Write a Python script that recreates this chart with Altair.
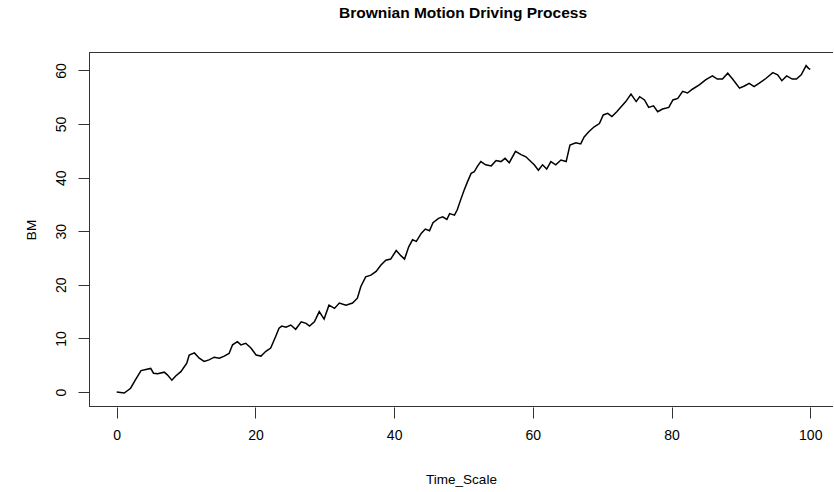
import altair as alt
import pandas as pd

time_scale = [0, 1.08, 2.0, 2.67, 3.5, 4.2, 4.9, 5.3, 5.9, 6.85, 7.3, 7.95, 8.5, 9.25,
              10.1, 10.45, 11.2, 11.9, 12.6, 13.3, 14.06, 14.8, 15.5, 16.2, 16.7, 17.4,
              17.9, 18.6, 19.35, 20.1, 20.8, 21.5, 22.2, 22.96, 23.4, 23.8, 24.4, 25.1,
              25.8, 26.6, 27.3, 27.8, 28.5, 29.2, 29.9, 30.6, 31.4, 32.1, 33.05, 34.0,
              34.7, 35.2, 35.9, 36.65, 37.4, 38.1, 38.8, 39.5, 40.3, 41.0, 41.5, 42.1,
              42.65, 43.2, 43.9, 44.5, 45.1, 45.6, 46.4, 47.0, 47.6, 48.0, 48.7, 49.1,
              49.6, 50.1, 50.6, 51.1, 51.55, 52.0, 52.5, 53.2, 54.0, 54.7, 55.4, 56.0,
              56.6, 57.5, 58.3, 59.0, 59.7, 60.2, 60.8, 61.4, 62.0, 62.6, 63.3, 64.05,
              64.8, 65.35, 66.2, 66.9, 67.4, 68.1, 68.85, 69.6, 70.15, 70.8, 71.4, 72.1,
              72.7, 73.4, 74.15, 74.9, 75.4, 76.1, 76.7, 77.4, 78.0, 78.7, 79.6, 80.2,
              80.9, 81.6, 82.3, 83.0, 84.0, 84.95, 85.9, 86.6, 87.35, 88.1, 88.8, 89.8,
              90.5, 91.2, 91.9, 92.6, 93.6, 94.6, 95.3, 95.9, 96.6, 97.4, 98.0, 98.7,
              99.4, 99.75, 100.0]

bm = [0.0, -0.2, 0.7, 2.2, 4.0, 4.2, 4.4, 3.5, 3.4, 3.7, 3.2, 2.2, 3.0, 3.8,
      5.4, 6.9, 7.3, 6.3, 5.7, 6.0, 6.5, 6.3, 6.7, 7.2, 8.8, 9.4,
      8.8, 9.1, 8.2, 6.9, 6.7, 7.6, 8.2, 10.5, 11.9, 12.3, 12.1, 12.5,
      11.7, 13.1, 12.8, 12.3, 13.1, 15.0, 13.6, 16.2, 15.6, 16.6, 16.2, 16.6,
      17.5, 19.7, 21.5, 21.8, 22.5, 23.7, 24.6, 24.8, 26.4, 25.4, 24.8, 27.1,
      28.4, 28.1, 29.6, 30.4, 30.1, 31.6, 32.4, 32.7, 32.2, 33.3, 33.0, 34.0,
      35.9, 37.7, 39.3, 40.8, 41.1, 42.1, 43.0, 42.4, 42.2, 43.2, 43.0, 43.6,
      42.8, 44.9, 44.3, 43.9, 43.0, 42.4, 41.4, 42.4, 41.6, 43.0, 42.4, 43.3,
      43.0, 46.1, 46.5, 46.3, 47.6, 48.6, 49.5, 50.1, 51.7, 52.0, 51.4, 52.3,
      53.2, 54.2, 55.6, 54.2, 55.1, 54.5, 53.1, 53.4, 52.3, 52.8, 53.1, 54.5,
      54.8, 56.1, 55.8, 56.5, 57.3, 58.3, 59.0, 58.4, 58.4, 59.5, 58.4, 56.7,
      57.1, 57.6, 57.0, 57.6, 58.5, 59.6, 59.2, 58.1, 59.0, 58.4, 58.4, 59.2,
      60.9, 60.4, 60.2]

x_ticks = [0, 20, 40, 60, 80, 100]
y_ticks = [0, 10, 20, 30, 40, 50, 60]

df = pd.DataFrame({"Time_Scale": time_scale, "BM": bm})
one = pd.DataFrame({"k": [0]})

W, H = 744, 355
FONT = "Liberation Sans"
BOX = "#333333"

x_enc = alt.X("Time_Scale:Q",
              scale=alt.Scale(domain=[-4, 103.28], nice=False, zero=False),
              axis=alt.Axis(values=x_ticks, title="Time_Scale", domain=False, grid=False,
                            tickSize=11, tickColor=BOX, labelFontSize=14, labelPadding=10,
                            labelColor="black", labelFont=FONT, titleFont=FONT,
                            titleFontSize=13.5, titleFontWeight="normal", titleColor="black",
                            titlePadding=30))
y_enc = alt.Y("BM:Q",
              scale=alt.Scale(domain=[-2.8, 63.45], nice=False, zero=False),
              axis=alt.Axis(values=y_ticks, title="BM", domain=False, grid=False,
                            tickSize=11, tickColor=BOX, labelFontSize=14, labelPadding=10,
                            labelAngle=270, labelAlign="center", labelBaseline="bottom",
                            labelColor="black", labelFont=FONT, titleFont=FONT,
                            titleFontSize=13.5, titleFontWeight="normal", titleColor="black",
                            titlePadding=16))

line = alt.Chart(df).mark_line(color="black", strokeWidth=1.5, clip=True).encode(
    x=x_enc, y=y_enc)

top = alt.Chart(one).mark_rule(color=BOX, strokeWidth=1).encode(
    x=alt.value(0), x2=alt.value(W), y=alt.value(0.5))
bottom = alt.Chart(one).mark_rule(color=BOX, strokeWidth=1).encode(
    x=alt.value(0), x2=alt.value(W), y=alt.value(H - 0.5))
left = alt.Chart(one).mark_rule(color=BOX, strokeWidth=1).encode(
    x=alt.value(0.5), y=alt.value(0), y2=alt.value(H))

chart = alt.layer(line, top, bottom, left).properties(
    width=W, height=H,
    padding={"left": 89, "top": 52, "right": 0, "bottom": 85},
    autosize=alt.AutoSizeParams(type="none"),
    title=alt.TitleParams("Brownian Motion Driving Process", font=FONT, fontSize=15.5,
                          fontWeight="bold", color="black", anchor="middle",
                          frame="group", offset=30, dx=2),
).configure_view(stroke=None)

chart.save("out.html", embed_options={"renderer": "svg", "actions": False})
